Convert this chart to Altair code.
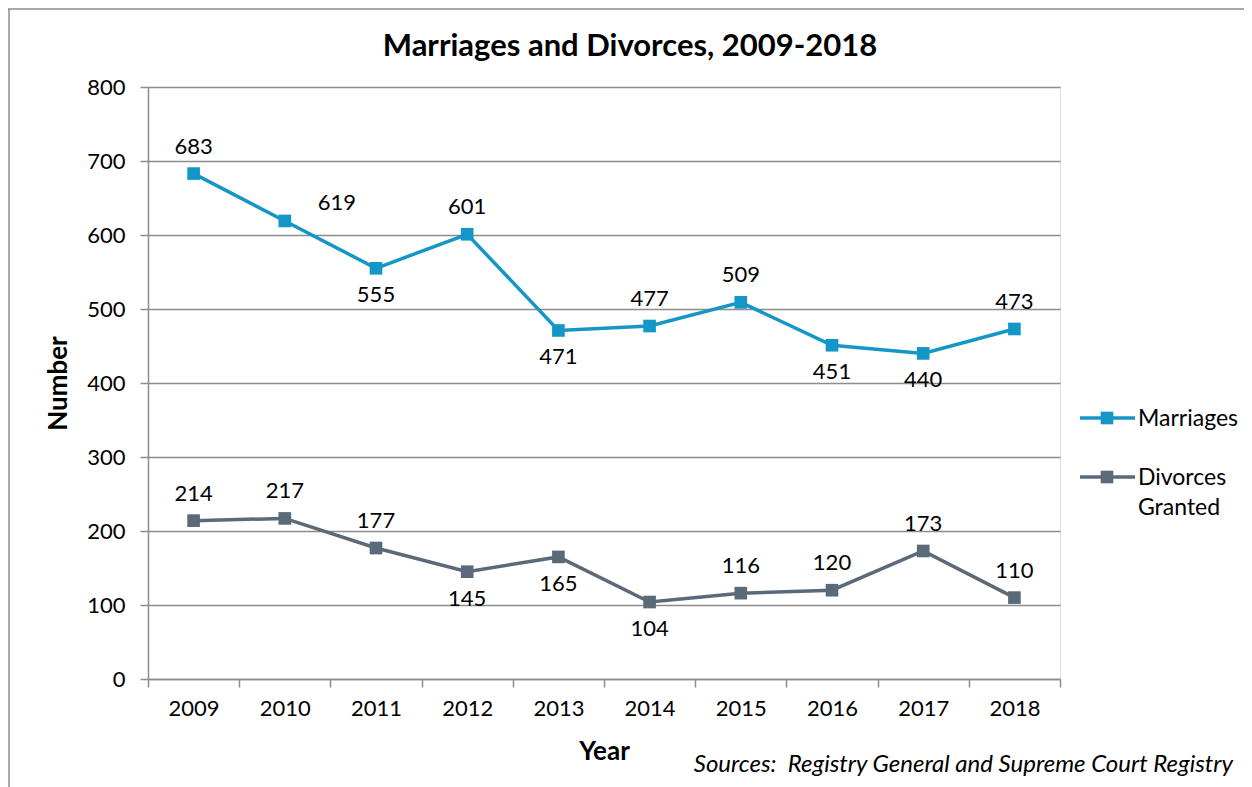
import altair as alt
import pandas as pd

years = ["2009", "2010", "2011", "2012", "2013", "2014", "2015", "2016", "2017", "2018"]
marriages = [683, 619, 555, 601, 471, 477, 509, 451, 440, 473]
divorces = [214, 217, 177, 145, 165, 104, 116, 120, 173, 110]
marriage_label_pos = ["above", "right", "below", "above", "below", "above", "above", "below", "below", "above"]
divorce_label_pos = ["above", "above", "above", "below", "below", "below", "above", "above", "above", "above"]
series = ["Marriages", "Divorces Granted"]
series_labels = ["Marriages", "Divorces\nGranted"]
colors = ["#1497C6", "#5A6A79"]
title_text = "Marriages and Divorces, 2009-2018"
source_text = "Sources:\u00a0\u00a0Registry General and Supreme Court Registry"

rows = []
for s, vals, poss in [(series[0], marriages, marriage_label_pos), (series[1], divorces, divorce_label_pos)]:
    for y, v, p in zip(years, vals, poss):
        rows.append({"year": y, "series": s, "value": v, "pos": p})
df = pd.DataFrame(rows)
legend_df = pd.DataFrame({"series": series, "label": series_labels})
note_df = pd.DataFrame({"text": [source_text], "title": [title_text]})

FONT = "Lato"
W, H = 912, 592

x_enc = alt.X("year:O", bandPosition=0.5,
              scale=alt.Scale(type="band", domain=years, paddingInner=0, paddingOuter=0),
              axis=alt.Axis(title="Year", tickBand="extent", labelAngle=0, labelFontSize=22,
                            labelPadding=11, labelColor="black", labelFont=FONT,
                            domainColor="#8c8c8c", domainWidth=1.5, tickColor="#8c8c8c",
                            tickWidth=1.5, tickSize=8, titleFont=FONT, titleFontSize=26,
                            titleFontWeight="bold", titleColor="black", titleX=W / 2,
                            titleY=72, titleBaseline="middle", titleAlign="center", grid=False))
y_enc = alt.Y("value:Q", scale=alt.Scale(domain=[0, 800], nice=False),
              axis=alt.Axis(title="Number", values=list(range(0, 801, 100)), labelFontSize=22,
                            labelPadding=15, labelColor="black", labelFont=FONT,
                            domainColor="#8c8c8c", domainWidth=1.5, tickColor="#8c8c8c",
                            tickWidth=1.5, tickSize=8, grid=True, gridColor="#8c8c8c",
                            gridWidth=1.5, titleFont=FONT, titleFontSize=26,
                            titleFontWeight="bold", titleColor="black", titleAngle=-90,
                            titleX=-90, titleY=H / 2, titleBaseline="middle",
                            titleAlign="center"))
color_enc = alt.Color("series:N", scale=alt.Scale(domain=series, range=colors), legend=None)

base = alt.Chart(df).encode(x=x_enc, y=y_enc, color=color_enc)
lines = base.mark_line(strokeWidth=3.5)
points = base.mark_point(shape="square", filled=True, size=160, opacity=1)
txt = dict(fontSize=22, font=FONT, color="black", baseline="middle", align="center")
lab_above = base.transform_filter("datum.pos == 'above'").mark_text(dy=-27, **txt).encode(
    text="value:Q", color=alt.value("black"))
lab_below = base.transform_filter("datum.pos == 'below'").mark_text(dy=27, **txt).encode(
    text="value:Q", color=alt.value("black"))
lab_right = base.transform_filter("datum.pos == 'right'").mark_text(dx=52, dy=-18, **txt).encode(
    text="value:Q", color=alt.value("black"))

main = alt.layer(lines, points, lab_above, lab_below, lab_right)

ly = alt.Y("series:N", scale=alt.Scale(type="point", domain=series, range=[331, 390], padding=0),
           axis=None)
leg_base = alt.Chart(legend_df).encode(y=ly)
leg_rule = leg_base.mark_rule(strokeWidth=3.5).encode(
    x=alt.value(932), x2=alt.value(987),
    color=alt.Color("series:N", scale=alt.Scale(domain=series, range=colors), legend=None))
leg_pt = leg_base.mark_point(shape="square", filled=True, size=160, opacity=1).encode(
    x=alt.value(959),
    color=alt.Color("series:N", scale=alt.Scale(domain=series, range=colors), legend=None))
leg_txt = leg_base.mark_text(align="left", baseline="alphabetic", dy=8, fontSize=23, font=FONT,
                             color="black", lineBreak="\n", lineHeight=30).encode(
    x=alt.value(990), text="label:N")
legend = alt.layer(leg_rule, leg_pt, leg_txt)

note = alt.Chart(note_df).mark_text(align="right", baseline="middle", fontSize=24, font=FONT,
                                    fontStyle="italic", color="black").encode(
    x=alt.value(1085), y=alt.value(678), text="text:N")
title = alt.Chart(note_df).mark_text(align="center", baseline="middle", fontSize=31, font=FONT,
                                     fontWeight="bold", color="black").encode(
    x=alt.value(482), y=alt.value(-40), text="title:N")
frame_top = alt.Chart(note_df).mark_rule(color="#8c8c8c", strokeWidth=1.5).encode(
    x=alt.value(-140), x2=alt.value(1100), y=alt.value(-78))
frame_left = alt.Chart(note_df).mark_rule(color="#8c8c8c", strokeWidth=1.5).encode(
    x=alt.value(-139), y=alt.value(-78), y2=alt.value(710))

chart = alt.layer(main, legend, note, title, frame_top, frame_left).resolve_scale(
    y="independent", color="shared"
).properties(
    width=W, height=H,
    autosize=alt.AutoSizeParams(type="none"),
    padding={"left": 140, "top": 79, "right": 184, "bottom": 108},
).configure_view(stroke=None).configure(font=FONT)

chart.save("out.html", embed_options={"renderer": "svg", "actions": False})
